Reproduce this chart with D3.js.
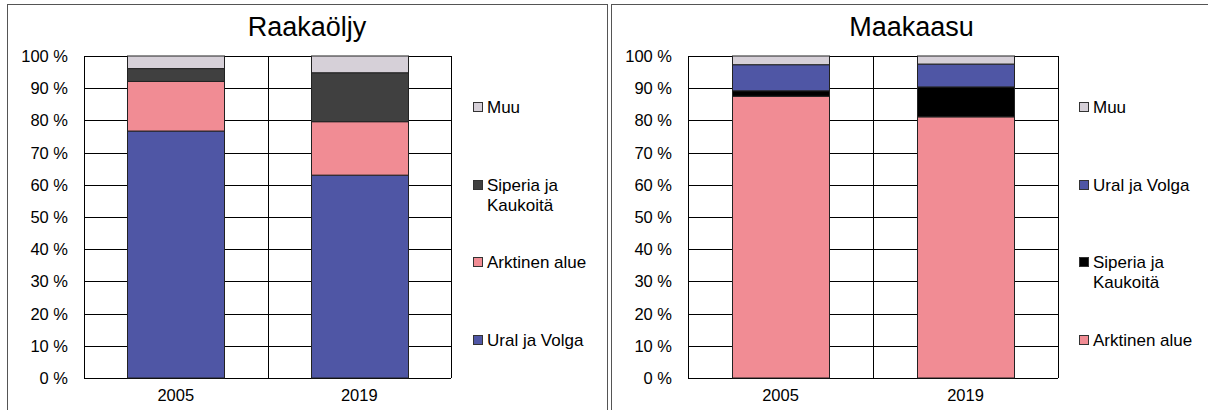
<!DOCTYPE html>
<html>
<head>
<meta charset="utf-8">
<script src="https://cdn.jsdelivr.net/npm/d3@7"></script>
<style>
  body { margin: 0; background: #fff; }
  svg { display: block; font-family: "Liberation Sans", Arial, sans-serif; }
</style>
</head>
<body>
<div id="chart"></div>
<script>
// categories
var years = ["2005", "2019"];

// Raakaöljy, share %, bottom to top
var oilUral = [76.7, 63.0];
var oilArktinen = [15.4, 16.6];
var oilSiperia = [4.0, 15.2];
var oilMuu = [3.9, 5.2];

// Maakaasu, share %, bottom to top
var gasArktinen = [87.5, 81.1];
var gasSiperia = [1.7, 9.3];
var gasUral = [8.1, 7.1];
var gasMuu = [2.7, 2.5];

var yTickValues = [0, 10, 20, 30, 40, 50, 60, 70, 80, 90, 100];

var colUral = "#4f56a5";
var colArktinen = "#f18c94";
var colMuu = "#d6d0d8";

var W = 1208, H = 410;
var svg = d3.select("#chart").append("svg")
  .attr("width", W)
  .attr("height", H);

function drawPanel(o) {
  var g = svg.append("g");

  // panel frame
  g.append("rect")
    .attr("x", o.frame[0] + 0.5)
    .attr("y", 4.5)
    .attr("width", o.frame[1] - o.frame[0])
    .attr("height", 440)
    .attr("fill", "#fff")
    .attr("stroke", "#555")
    .attr("stroke-width", 1);

  g.append("text")
    .attr("x", (o.frame[0] + o.frame[1]) / 2)
    .attr("y", 36)
    .attr("text-anchor", "middle")
    .attr("font-size", 27)
    .attr("fill", "#000")
    .text(o.title);

  var x = d3.scaleBand().domain(years).range([o.left, o.right]).padding(0);
  var y = d3.scaleLinear().domain([0, 100]).range([378, 56]);
  var barW = x.bandwidth() * o.barFrac;

  // horizontal gridlines
  g.selectAll(".hgrid").data(yTickValues).enter()
    .append("line")
    .attr("x1", o.left).attr("x2", o.right)
    .attr("y1", d => Math.round(y(d)) + 0.5)
    .attr("y2", d => Math.round(y(d)) + 0.5)
    .attr("stroke", "#000")
    .attr("stroke-width", 1);

  // vertical lines at category boundaries
  var vx = [o.left, o.left + x.bandwidth(), o.right];
  g.selectAll(".vgrid").data(vx).enter()
    .append("line")
    .attr("x1", d => Math.round(d) + 0.5).attr("x2", d => Math.round(d) + 0.5)
    .attr("y1", y(100)).attr("y2", y(0))
    .attr("stroke", "#000")
    .attr("stroke-width", 1);

  // stacked bars
  var rows = years.map((yr, i) => {
    var r = { year: yr };
    o.series.forEach(s => { r[s.name] = s.values[i]; });
    return r;
  });
  var stack = d3.stack().keys(o.series.map(s => s.name));
  var layers = stack(rows);

  layers.forEach((layer, li) => {
    g.selectAll(".seg" + li).data(layer).enter()
      .append("rect")
      .attr("x", d => Math.round(x(d.data.year) + (x.bandwidth() - barW) / 2) + 0.5)
      .attr("y", d => y(d[1]))
      .attr("width", Math.round(barW))
      .attr("height", d => y(d[0]) - y(d[1]))
      .attr("fill", o.series[li].color)
      .attr("stroke", "#222")
      .attr("stroke-width", 1);
  });

  // y axis labels
  g.selectAll(".ylab").data(yTickValues).enter()
    .append("text")
    .attr("x", o.left - 16)
    .attr("y", d => y(d) + 6)
    .attr("text-anchor", "end")
    .attr("font-size", 16.5)
    .attr("fill", "#000")
    .text(d => d + " %");

  // category labels
  g.selectAll(".xlab").data(years).enter()
    .append("text")
    .attr("x", d => x(d) + x.bandwidth() / 2)
    .attr("y", 401)
    .attr("text-anchor", "middle")
    .attr("font-size", 16.5)
    .attr("fill", "#000")
    .text(d => d);

  // legend, reverse order of stacking
  var legendItems = o.series.slice().reverse();
  var ly = d3.scalePoint().domain(legendItems.map(s => s.name)).range([107, 340]);
  legendItems.forEach(s => {
    var cy = ly(s.name);
    var lines = s.name === "Siperia ja Kaukoitä" ? ["Siperia ja", "Kaukoitä"] : [s.name];
    g.append("rect")
      .attr("x", o.legendX + 0.5)
      .attr("y", Math.round(cy - 5) + 0.5)
      .attr("width", 9)
      .attr("height", 9)
      .attr("fill", s.color)
      .attr("stroke", "#333")
      .attr("stroke-width", 1);
    lines.forEach((t, k) => {
      g.append("text")
        .attr("x", o.legendX + 14)
        .attr("y", cy + 6 + k * 20)
        .attr("font-size", 17)
        .attr("fill", "#000")
        .text(t);
    });
  });
}

drawPanel({
  title: "Raakaöljy",
  frame: [7, 607],
  left: 84, right: 451,
  barFrac: 0.53,
  legendX: 473,
  series: [
    { name: "Ural ja Volga", values: oilUral, color: colUral },
    { name: "Arktinen alue", values: oilArktinen, color: colArktinen },
    { name: "Siperia ja Kaukoitä", values: oilSiperia, color: "#404040" },
    { name: "Muu", values: oilMuu, color: colMuu }
  ]
});

drawPanel({
  title: "Maakaasu",
  frame: [611, 1212],
  left: 688, right: 1058,
  barFrac: 0.527,
  legendX: 1079,
  series: [
    { name: "Arktinen alue", values: gasArktinen, color: colArktinen },
    { name: "Siperia ja Kaukoitä", values: gasSiperia, color: "#000" },
    { name: "Ural ja Volga", values: gasUral, color: colUral },
    { name: "Muu", values: gasMuu, color: colMuu }
  ]
});
</script>
</body>
</html>
